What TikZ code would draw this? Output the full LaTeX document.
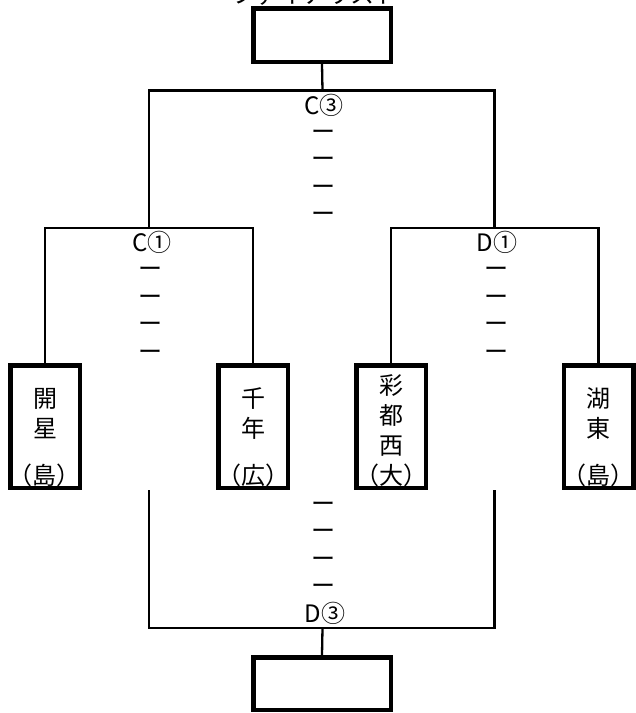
\documentclass[tikz,border=0pt]{standalone}
\usepackage{fontspec}
\setmainfont{Noto Sans CJK JP}

\begin{document}
\begin{tikzpicture}[%
    x=1pt, y=-1pt,              % Work in pixels, top-down
    ]
% -------------------------------------------------
% Box and line styles
\tikzset{
  box/.style={draw, line width=4.5pt, inner sep=0pt},
  team/.style={box, minimum width=69.5pt, minimum height=122.5pt},
  final/.style={box, minimum width=137.5pt, minimum height=53.5pt},
  moji/.style={font=\fontsize{24pt}{24pt}\selectfont, inner sep=0pt,
               text height=21pt, text depth=3pt},
  bracket/.style={draw, line width=2.3pt},
}
\useasboundingbox (0,0) rectangle (636,713);
% -------------------------------------------------
% Winner boxes (top one has its heading cut off at the page edge)
\node [moji, anchor=base] (title) at (315,3) {ファイナリスト};
\node [final] (top) at (322,35) {};
\node [final, minimum height=52.5pt] (bottom) at (322,683.5) {};
% -------------------------------------------------
% Team boxes
\node [team] (kaisei) at (45,426.5) {};
\node [team] (sennen) at (253,426.5) {};
\node [team] (saito)  at (391,426.5) {};
\node [team] (koto)   at (598.5,426.5) {};
\foreach \ch/\y [count=\i] in {開/398,星/428,（島）/475}
  \node [moji] (kaisei-\i) at (45,\y) {\ch};
\foreach \ch/\y [count=\i] in {千/398,年/428,（広）/475}
  \node [moji] (sennen-\i) at (253,\y) {\ch};
\foreach \ch/\y [count=\i] in {彩/385,都/415,西/445,（大）/475}
  \node [moji] (saito-\i) at (391,\y) {\ch};
\foreach \ch/\y [count=\i] in {湖/398,東/428,（島）/475}
  \node [moji] (koto-\i) at (598.5,\y) {\ch};
% -------------------------------------------------
% Bracket joints
\coordinate (c1) at (149,228);
\coordinate (d1) at (494.5,228);
\coordinate (c3) at (322.5,90.5);
\coordinate (c1low) at (149,490);
\coordinate (d1low) at (494.5,490);
\coordinate (d3) at (322.5,628);
% -------------------------------------------------
% Game labels and score dashes
\node [moji] (c3lbl) at (324,105) {C③};
\node [moji] (c1lbl) at (152,242) {C①};
\node [moji] (d1lbl) at (497,242) {D①};
\node [moji] (d3lbl) at (325,613) {D③};
\foreach \y [count=\i] in {131,158,186,213}
  \node [moji] (c3-\i) at (323,\y) {ー};
\foreach \y [count=\i] in {268,296,323,351} {
  \node [moji] (c1-\i) at (150,\y) {ー};
  \node [moji] (d1-\i) at (496,\y) {ー};
}
\foreach \y [count=\i] in {503,530,558,585}
  \node [moji] (d3-\i) at (323,\y) {ー};
% -------------------------------------------------
% Connectors
\draw [bracket] (kaisei.north) |- (c1) -| (sennen.north);
\draw [bracket] (saito.north) |- (d1) -| (koto.north);
\draw [bracket] (c1) |- (c3) -| (d1);
\draw [bracket] (c3) -- (top.south);
\draw [bracket] (c1low) |- (d3) -| (d1low);
\draw [bracket] (d3) -- (bottom.north);
\end{tikzpicture}
\end{document}
